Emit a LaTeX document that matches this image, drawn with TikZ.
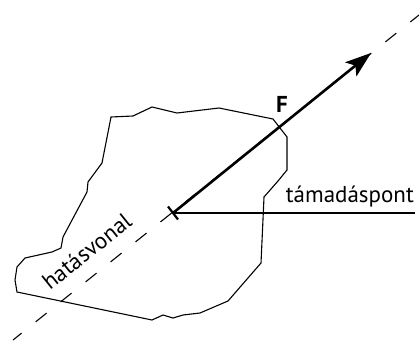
\documentclass[tikz,border=0pt]{standalone}
\usepackage{fontspec}
\setmainfont{PT Sans}
\usetikzlibrary{arrows.meta,calc}

\begin{document}
\begin{tikzpicture}[
    x=1pt, y=-1pt,
    outline/.style={line width=1.1pt, line join=miter},
    actline/.style={line width=1.1pt, dash pattern=on 14pt off 18pt, dash phase=3pt},
    force/.style={line width=2.6pt, -{Stealth[length=26pt, width=18pt, inset=6pt]}},
    label/.style={inner sep=0pt, font=\fontsize{23}{27}\selectfont}
]
\useasboundingbox (0,0) rectangle (419,342);
% body outline
\draw[outline] (111,117) -- (133,116) -- (152,107) -- (177,113) -- (219,108)
    -- (273,119) -- (287,137) -- (287,170) -- (278,181) -- (264,197)
    -- (261,263) -- (228,301) -- (200,313) -- (183,315) -- (173,318)
    -- (163,315) -- (152,320) -- (17,292) -- (15,280) -- (17,267)
    -- (25,258) -- (52,252) -- (61,248) -- (63,237) -- (87,192)
    -- (88,182) -- (102,163) -- cycle;
% line of action
\coordinate (lowend) at (13,340);
\coordinate (topend) at (419,15);
\coordinate (app) at (173,213);
\coordinate (tip) at (371,53);
\coordinate (refend) at (415,213);
\draw[actline] (lowend) -- (topend);
\draw[outline] (app) -- (refend);
\draw[force] (app) -- (tip);
\draw[line width=2.2pt] ($(app)+(-5,-6.5)$) -- ($(app)+(5,6.5)$);
% labels
\node[label, font=\fontsize{23}{27}\selectfont\bfseries] (flabel) at (282,104) {F};
\node[label, anchor=base east] (applabel) at (414,202) {támadáspont};
\node[label, anchor=base west, rotate=38.7] (linelabel) at (50,291) {hatásvonal};
\end{tikzpicture}
\end{document}
